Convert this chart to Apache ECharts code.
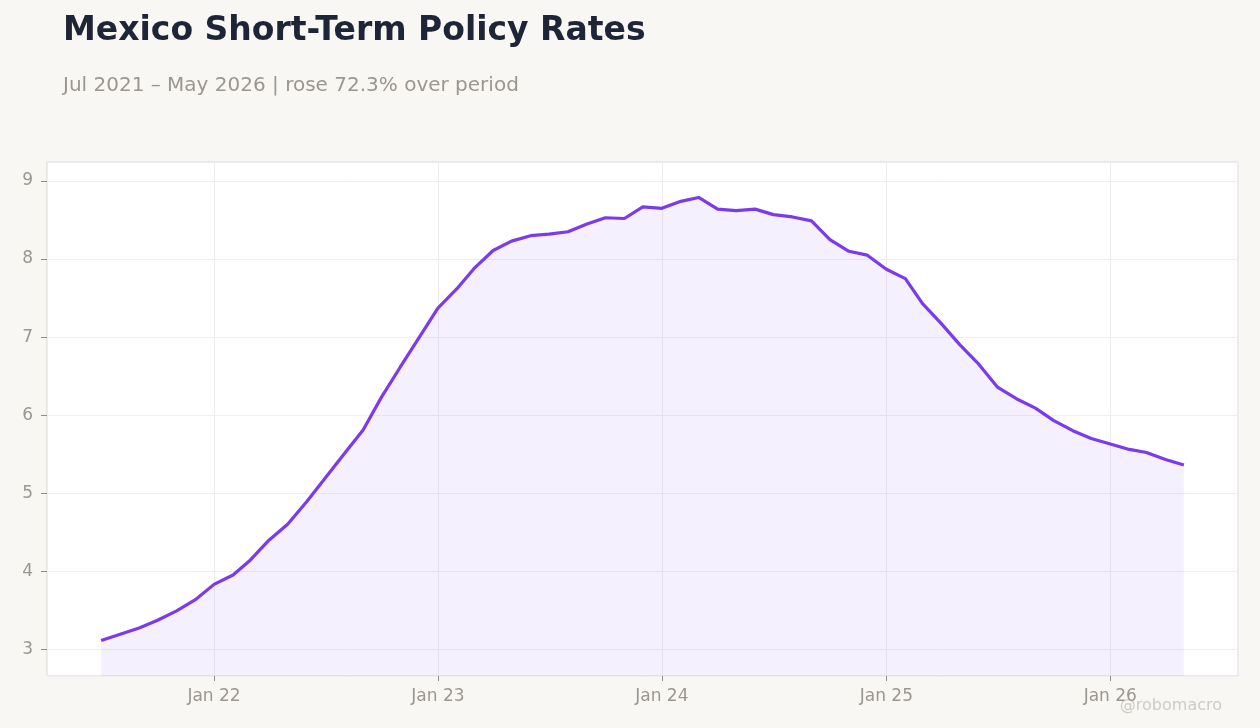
<!DOCTYPE html>
<html>
<head>
<meta charset="utf-8">
<script src="https://cdn.jsdelivr.net/npm/echarts@6/dist/echarts.min.js"></script>
<style>
  html, body { margin: 0; padding: 0; background: #f8f7f4; }
  #chart { width: 1260px; height: 728px; }
</style>
</head>
<body>
<div id="chart"></div>
<script>
const months = [
  '2021-07-01','2021-08-01','2021-09-01','2021-10-01','2021-11-01','2021-12-01',
  '2022-01-01','2022-02-01','2022-03-01','2022-04-01','2022-05-01','2022-06-01',
  '2022-07-01','2022-08-01','2022-09-01','2022-10-01','2022-11-01','2022-12-01',
  '2023-01-01','2023-02-01','2023-03-01','2023-04-01','2023-05-01','2023-06-01',
  '2023-07-01','2023-08-01','2023-09-01','2023-10-01','2023-11-01','2023-12-01',
  '2024-01-01','2024-02-01','2024-03-01','2024-04-01','2024-05-01','2024-06-01',
  '2024-07-01','2024-08-01','2024-09-01','2024-10-01','2024-11-01','2024-12-01',
  '2025-01-01','2025-02-01','2025-03-01','2025-04-01','2025-05-01','2025-06-01',
  '2025-07-01','2025-08-01','2025-09-01','2025-10-01','2025-11-01','2025-12-01',
  '2026-01-01','2026-02-01','2026-03-01','2026-04-01','2026-05-01'
]
const rates = [
  3.11, 3.19, 3.27, 3.37, 3.49, 3.63,
  3.83, 3.95, 4.14, 4.40, 4.60, 4.89, 5.19, 5.50, 5.81, 6.23, 6.62, 6.99,
  7.37, 7.62, 7.88, 8.11, 8.23, 8.30, 8.32, 8.35, 8.45, 8.53, 8.52, 8.67,
  8.65, 8.74, 8.79, 8.64, 8.62, 8.64, 8.57, 8.54, 8.49, 8.25, 8.10, 8.05,
  7.87, 7.75, 7.43, 7.17, 6.90, 6.65, 6.36, 6.21, 6.09, 5.93, 5.80, 5.70,
  5.63, 5.56, 5.52, 5.43, 5.36
]
const titleText = 'Mexico Short-Term Policy Rates'
const subText = 'Jul 2021 – May 2026 | rose 72.3% over period'

const font = 'DejaVu Sans'
const labelColor = '#9b9690'
const chart = echarts.init(document.getElementById('chart'))

chart.setOption({
  backgroundColor: '#f8f7f4',
  animation: false,
  title: [
    {
      text: titleText,
      left: 63, top: 15, padding: 0,
      textStyle: { fontFamily: font, fontSize: 33, fontWeight: 'bold', color: '#1e2536' }
    },
    {
      text: subText,
      left: 63, top: 76, padding: 0,
      textStyle: { fontFamily: font, fontSize: 20, fontWeight: 'normal', color: '#9b9690' }
    }
  ],
  grid: {
    left: 47, right: 22, top: 162, bottom: 52,
    show: true,
    backgroundColor: '#ffffff',
    borderColor: '#dcd6cc',
    borderWidth: 1
  },
  xAxis: {
    type: 'time',
    min: function (v) { return v.min - (v.max - v.min) * 0.05 },
    max: function (v) { return v.max + (v.max - v.min) * 0.05 },
    minInterval: 365 * 24 * 3600 * 1000,
    maxInterval: 366 * 24 * 3600 * 1000,
    axisLine: { show: false },
    axisTick: { show: true, length: 5, lineStyle: { color: '#8f8a84' } },
    axisLabel: {
      fontFamily: font, fontSize: 17, color: labelColor, margin: 12,
      showMinLabel: false, showMaxLabel: false,
      formatter: function (v) {
        const d = new Date(v)
        if (d.getMonth() !== 0 || d.getDate() !== 1) return ''
        return 'Jan ' + String(d.getFullYear()).slice(2)
      }
    },
    splitLine: { show: true, lineStyle: { color: '#eeecef', width: 1 } }
  },
  yAxis: {
    type: 'value',
    min: function (v) { return v.min - (v.max - v.min) * 0.08 },
    max: function (v) { return v.max + (v.max - v.min) * 0.08 },
    splitNumber: 6,
    axisLine: { show: false },
    axisTick: { show: true, length: 6, lineStyle: { color: '#8f8a84' } },
    axisLabel: {
      fontFamily: font, fontSize: 17, color: labelColor, margin: 14,
      showMinLabel: false, showMaxLabel: false
    },
    splitLine: { show: true, lineStyle: { color: '#efefef', width: 1 } }
  },
  graphic: [
    {
      type: 'text',
      right: 38, bottom: 14,
      style: { text: '@robomacro', fontFamily: font, fontSize: 16, fill: '#cfcbc6' }
    }
  ],
  series: [
    {
      type: 'line',
      data: months.map((m, i) => [m, rates[i]]),
      showSymbol: false,
      lineStyle: { color: '#7c3aed', width: 3.2 },
      itemStyle: { color: '#7c3aed' },
      areaStyle: { color: 'rgba(124,58,237,0.11)', origin: 'start' },
      z: 3
    }
  ]
})
</script>
</body>
</html>
